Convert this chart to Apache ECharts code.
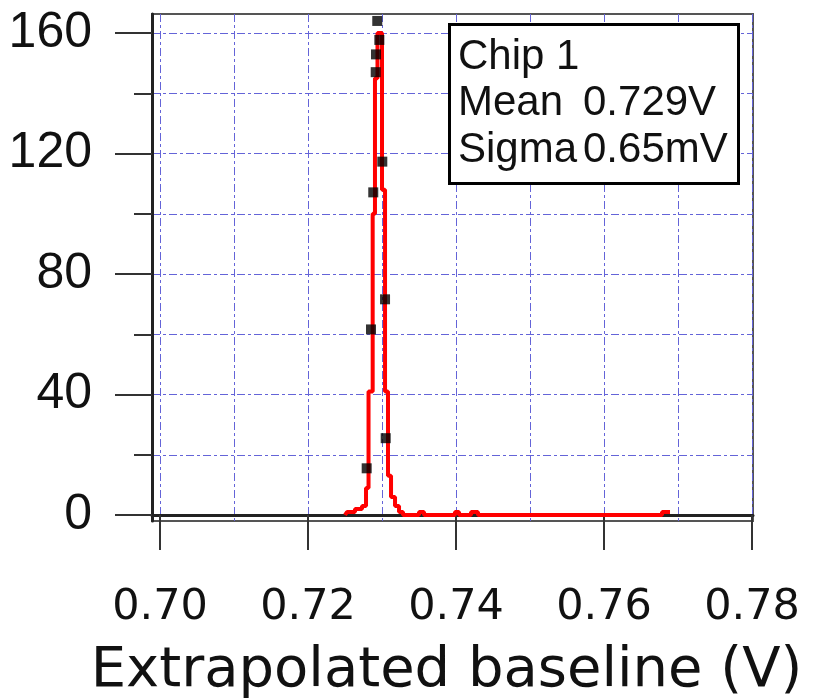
<!DOCTYPE html>
<html><head><meta charset="utf-8">
<script src="https://cdn.jsdelivr.net/npm/echarts@6/dist/echarts.min.js"></script>
<style>html,body{margin:0;padding:0;background:#fff}#c{width:813px;height:699px}</style>
</head><body><div id="c"></div>
<script>
// ---- data ----
const xTickValues = [0.70, 0.72, 0.74, 0.76, 0.78];
const xGridValues = [0.70, 0.71, 0.72, 0.73, 0.74, 0.75, 0.76, 0.77, 0.78];
const yTickValues = [0, 40, 80, 120, 160];
const yMinorTickValues = [20, 60, 100, 140];
const yGridValues = [0, 20, 40, 60, 80, 100, 120, 140, 160];

// histogram step edges (V) and counts (left edge -> count)
const histEdges = [0.72500, 0.72527, 0.72635, 0.72730, 0.72784, 0.72818, 0.72874, 0.72905, 0.72939,
                   0.73000, 0.73041, 0.73081, 0.73122, 0.73176, 0.73230, 0.73284,
                   0.73500, 0.73568, 0.73986, 0.74041, 0.74203, 0.74297, 0.76784, 0.76892];
const histCounts = [0, 1, 2, 3, 9, 41, 100, 145, 160,
                    108, 41, 13, 6, 3, 1, 0,
                    1, 0, 1, 0, 1, 0, 1, 1];

// black square points
const pointX = [0.72793, 0.72851, 0.72882, 0.72915, 0.72919, 0.72936, 0.72964, 0.73004, 0.73041, 0.73050];
const pointY = [15.5, 61.6, 107.1, 147, 152.9, 164, 157.7, 117.3, 71.6, 25.5];

const boxTitle = 'Chip 1';
const meanLabel = 'Mean', meanValue = '0.729V';
const sigmaLabel = 'Sigma', sigmaValue = '0.65mV';
const axisTitle = 'Extrapolated baseline (V)';

// ---- chart ----
const chart = echarts.init(document.getElementById('c'), null, {renderer: 'canvas'});
const gridColor = '#6464d8';
const gridDash = [8, 3, 3, 3];
const X0 = 0.70 - 8 / 7400, X1 = X0 + 601 / 7400;
const Y0 = -6 / 3.0125, Y1 = (521 - 14) / 3.0125 + Y0;

const option = {
  backgroundColor: '#ffffff',
  animation: false,
  title: {
    left: 449, top: 24,
    padding: [10, 11, 10, 9],
    borderColor: '#000', borderWidth: 3,
    backgroundColor: '#fff',
    text: '{a|' + boxTitle + '}\n{a|' + meanLabel + '}{b|' + meanValue + '}\n{a|' + sigmaLabel + '}{b|' + sigmaValue + '}',
    textStyle: {
      fontFamily: 'Liberation Sans', fontSize: 42, fontWeight: 'normal', color: '#111', lineHeight: 46.5,
      rich: {
        a: {fontFamily: 'Liberation Sans', fontSize: 42, color: '#111', width: 125, lineHeight: 46.5},
        b: {fontFamily: 'Liberation Sans', fontSize: 42, color: '#111', lineHeight: 46.5}
      }
    }
  },
  grid: {
    left: 152, top: 14, width: 601, height: 507,
    containLabel: false, outerBoundsMode: 'none',
    show: true, borderColor: '#555', borderWidth: 2, backgroundColor: 'transparent'
  },
  xAxis: [
    {
      type: 'value', min: X0, max: X1, position: 'bottom',
      axisLine: {show: true, lineStyle: {color: '#222', width: 3}},
      axisTick: {show: true, customValues: xTickValues, length: 35, lineStyle: {color: '#333', width: 2}},
      axisLabel: {show: true, customValues: xTickValues, margin: 65,
        fontFamily: 'DejaVu Sans', fontSize: 43, color: '#111',
        formatter: v => v.toFixed(2)},
      splitLine: {show: false},
      name: axisTitle, nameLocation: 'middle', nameGap: 122,
      nameTextStyle: {fontFamily: 'DejaVu Sans', fontSize: 56, color: '#111', padding: [0, 12, 0, 0]}
    },
    {
      type: 'value', min: X0, max: X1, position: 'top',
      axisLine: {show: false},
      axisTick: {show: false, customValues: xGridValues},
      axisLabel: {show: false},
      splitLine: {show: true, lineStyle: {color: gridColor, width: 1, type: gridDash}}
    }
  ],
  yAxis: [
    {
      type: 'value', min: Y0, max: Y1, position: 'left',
      axisLine: {show: true, lineStyle: {color: '#222', width: 3}},
      axisTick: {show: true, customValues: yTickValues, length: 37, lineStyle: {color: '#333', width: 2}},
      axisLabel: {show: true, customValues: yTickValues, margin: 60,
        fontFamily: 'Liberation Sans', fontSize: 50, color: '#111',
        formatter: v => String(Math.round(v))},
      splitLine: {show: false}
    },
    {
      type: 'value', min: Y0, max: Y1, position: 'left',
      axisLine: {show: false},
      axisTick: {show: true, customValues: yMinorTickValues, length: 18, lineStyle: {color: '#333', width: 2}},
      axisLabel: {show: false},
      splitLine: {show: false}
    },
    {
      type: 'value', min: Y0, max: Y1, position: 'right',
      axisLine: {show: false},
      axisTick: {show: false, customValues: yGridValues},
      axisLabel: {show: false},
      splitLine: {show: true, lineStyle: {color: gridColor, width: 1, type: gridDash}}
    }
  ],
  series: [
    {
      type: 'line', xAxisIndex: 0, yAxisIndex: 0, step: 'end',
      data: histEdges.map((x, i) => [x, histCounts[i]]),
      showSymbol: false, symbol: 'none',
      lineStyle: {color: '#ff0000', width: 4}, z: 3
    },
    {
      type: 'scatter', xAxisIndex: 0, yAxisIndex: 0,
      data: pointX.map((x, i) => [x, pointY[i]]),
      symbol: 'rect', symbolSize: 10,
      itemStyle: {color: '#000'}, z: 4
    }
  ]
};
chart.setOption(option);
</script>
</body></html>
